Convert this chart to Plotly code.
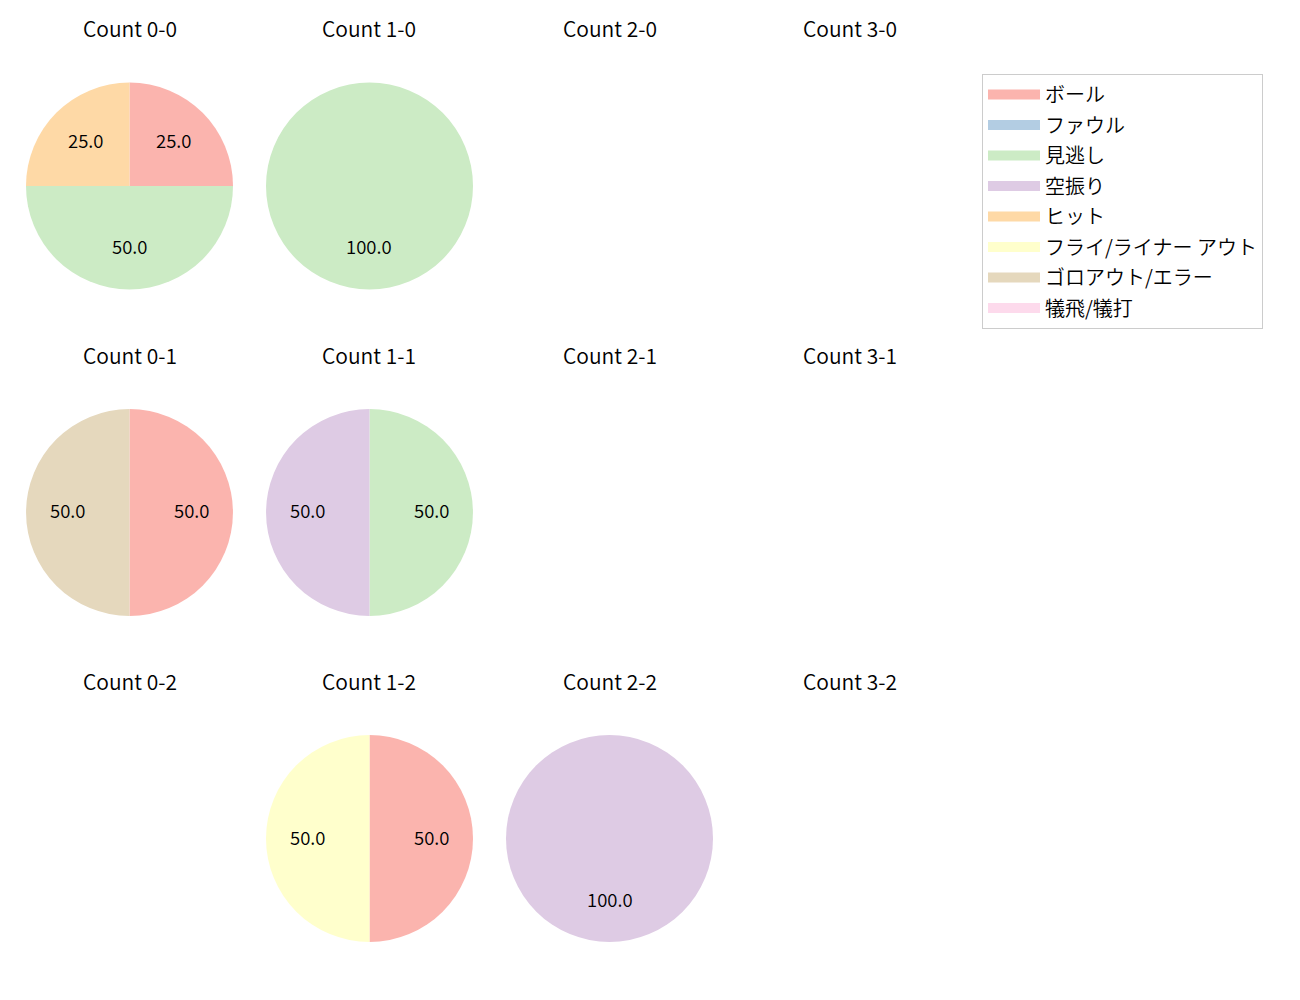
import math
import plotly.graph_objects as go

# ---- data ----
categories = ["ボール", "ファウル", "見逃し", "空振り", "ヒット",
              "フライ/ライナー アウト", "ゴロアウト/エラー", "犠飛/犠打"]
colors = ["#fbb4ae", "#b3cde3", "#ccebc5", "#decbe4", "#fed9a6",
          "#ffffcc", "#e5d8bd", "#fddaec"]
balls = [0, 1, 2, 3]
strikes = [0, 1, 2]
count_0_0 = [1, 0, 2, 0, 1, 0, 0, 0]
count_1_0 = [0, 0, 1, 0, 0, 0, 0, 0]
count_2_0 = [0, 0, 0, 0, 0, 0, 0, 0]
count_3_0 = [0, 0, 0, 0, 0, 0, 0, 0]
count_0_1 = [1, 0, 0, 0, 0, 0, 1, 0]
count_1_1 = [0, 0, 1, 1, 0, 0, 0, 0]
count_2_1 = [0, 0, 0, 0, 0, 0, 0, 0]
count_3_1 = [0, 0, 0, 0, 0, 0, 0, 0]
count_0_2 = [0, 0, 0, 0, 0, 0, 0, 0]
count_1_2 = [1, 0, 0, 0, 0, 1, 0, 0]
count_2_2 = [0, 0, 0, 1, 0, 0, 0, 0]
count_3_2 = [0, 0, 0, 0, 0, 0, 0, 0]

data = {
    (0, 0): count_0_0, (1, 0): count_1_0, (2, 0): count_2_0, (3, 0): count_3_0,
    (0, 1): count_0_1, (1, 1): count_1_1, (2, 1): count_2_1, (3, 1): count_3_1,
    (0, 2): count_0_2, (1, 2): count_1_2, (2, 2): count_2_2, (3, 2): count_3_2,
}

# ---- layout constants (pixels, page has an 8px body offset) ----
OFF = 8
W, H = 1300, 1000
col_cx = [129.5 - OFF, 369.5 - OFF, 609.5 - OFF, 849.5 - OFF]
row_cy = [186 - OFF, 512.5 - OFF, 838.5 - OFF]
R = 103.5
title_dy = 157.5
LABEL_DY = 2.0
FONT = "Noto Sans CJK JP, DejaVu Sans, sans-serif"
WEIGHT = 350

fig = go.Figure()
annotations = []

for (b, s), vals in data.items():
    cx, cy = col_cx[b], row_cy[s]
    annotations.append(dict(
        x=cx / W, y=1 - (cy - title_dy) / H, xref="paper", yref="paper",
        text=f"Count {b}-{s}", showarrow=False,
        font=dict(size=21, color="#000000", family=FONT, weight=WEIGHT),
        xanchor="center", yanchor="middle"))
    total = sum(vals)
    if total == 0:
        continue
    labs = [c for c, v in zip(categories, vals) if v > 0]
    vv = [v for v in vals if v > 0]
    cc = [col for col, v in zip(colors, vals) if v > 0]
    fig.add_trace(go.Pie(
        labels=labs, values=vv, sort=False, direction="clockwise", rotation=0,
        marker=dict(colors=cc, line=dict(width=0)),
        textinfo="none", hoverinfo="label+percent", showlegend=False,
        domain=dict(x=[(cx - R) / W, (cx + R) / W],
                    y=[1 - (cy + R) / H, 1 - (cy - R) / H])))
    cum = 0
    for v in vv:
        frac_mid = (cum + v / 2) / total
        theta = math.radians(90 - 360 * frac_mid)
        tx = cx + 0.6 * R * math.cos(theta)
        ty = cy - 0.6 * R * math.sin(theta) - LABEL_DY
        annotations.append(dict(
            x=tx / W, y=1 - ty / H, xref="paper", yref="paper",
            text=f"{100 * v / total:.1f}", showarrow=False,
            font=dict(size=18.5, color="#000000", family=FONT, weight=WEIGHT),
            xanchor="center", yanchor="middle"))
        cum += v

# legend entries via empty line traces (thick line -> rectangular patch)
for c, col in zip(categories, colors):
    fig.add_trace(go.Scatter(x=[None], y=[None], name=c, mode="lines",
                             line=dict(color=col, width=14),
                             legendgroup=c, showlegend=True))

fig.update_layout(
    width=W, height=H,
    margin=dict(l=0, r=0, t=0, b=0),
    paper_bgcolor="white", plot_bgcolor="white",
    xaxis=dict(visible=False), yaxis=dict(visible=False),
    annotations=annotations,
    legend=dict(
        x=(982 - OFF) / W, y=1 - (74 - OFF) / H, xanchor="left", yanchor="top",
        bordercolor="#cccccc", borderwidth=1, bgcolor="white",
        font=dict(size=20, family=FONT, color="#000000", weight=WEIGHT),
        tracegroupgap=1.5, itemwidth=52),
    showlegend=True,
)

fig.write_html("out.html")
